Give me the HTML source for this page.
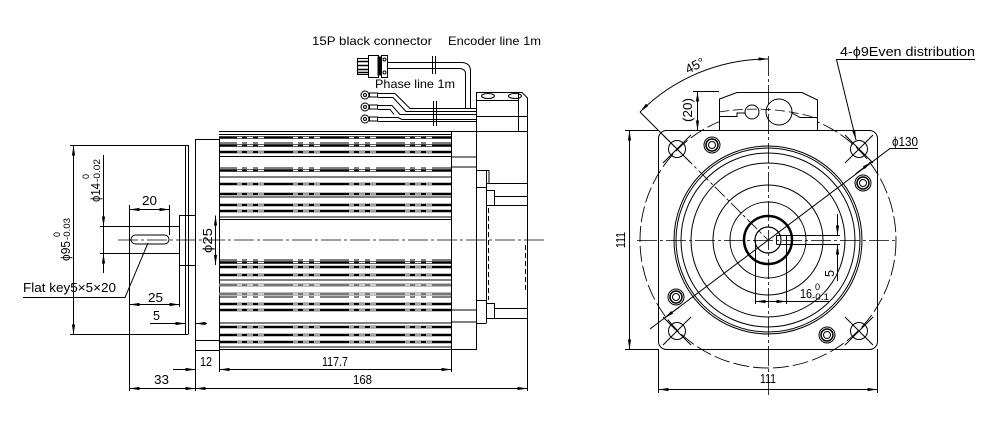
<!DOCTYPE html>
<html><head><meta charset="utf-8"><style>html,body{margin:0;padding:0;background:#fff}svg{display:block}</style></head>
<body>
<svg xmlns="http://www.w3.org/2000/svg" width="1000" height="433" viewBox="0 0 1000 433">
<defs>
<marker id="ah" viewBox="0 0 10 4" refX="10" refY="2" markerWidth="10" markerHeight="4" markerUnits="userSpaceOnUse" orient="auto-start-reverse"><path d="M0,0.4L10,2L0,3.6z" fill="#000"/></marker>
</defs>
<rect width="1000" height="433" fill="#fff"/>

<!-- ================= LEFT VIEW ================= -->
<g fill="none" stroke="#000" stroke-width="1">
<!-- centerline -->
<line x1="118" y1="240" x2="545" y2="240" stroke-width="0.8" stroke-dasharray="20 3 3 3"/>
<!-- shaft -->
<path d="M100,226.5H179 M100,253.5H179 M129.5,205V391"/>
<rect x="131" y="235" width="38" height="9" rx="4.5"/>
<path d="M169.5,205V235"/>
<line x1="129.5" y1="209.5" x2="169.5" y2="209.5" marker-start="url(#ah)" marker-end="url(#ah)"/>
<!-- boss -->
<rect x="179.5" y="215.5" width="16" height="50"/>
<path d="M179.5,265V307"/>
<line x1="215.5" y1="215.5" x2="215.5" y2="265" marker-start="url(#ah)" marker-end="url(#ah)"/>
<!-- thin plate -->
<path d="M185.5,145V334 M188.5,145V334 M70,145.5H188.5 M70,334.5H188.5"/>
<line x1="73.5" y1="145.5" x2="73.5" y2="334.5" marker-start="url(#ah)" marker-end="url(#ah)"/>
<!-- phi14 dim -->
<path d="M103.5,155V273"/>
<line x1="103.5" y1="205" x2="103.5" y2="226.5" marker-end="url(#ah)"/>
<line x1="103.5" y1="273" x2="103.5" y2="253.5" marker-end="url(#ah)"/>
<!-- flange body -->
<path d="M195.5,139V391 M195.5,139.5H219.5 M219.5,139V372 M195.5,340.5H219.5 M195.5,350.5H219.5"/>
<!-- key leader -->
<path d="M148,243L125,297.5H23"/>
<!-- 25 dim -->
<line x1="129.5" y1="304.5" x2="179.5" y2="304.5" marker-start="url(#ah)" marker-end="url(#ah)"/>
<!-- 5 dim -->
<line x1="150" y1="323.5" x2="185.5" y2="323.5" marker-end="url(#ah)"/>
<line x1="207" y1="323.5" x2="195.5" y2="323.5" marker-end="url(#ah)"/>
<!-- 12 / 117.7 -->
<line x1="173" y1="369.5" x2="195.5" y2="369.5" marker-end="url(#ah)"/>
<line x1="219.5" y1="369.5" x2="451.5" y2="369.5" marker-start="url(#ah)" marker-end="url(#ah)"/>
<!-- 33 / 168 -->
<line x1="129.5" y1="388.5" x2="195.5" y2="388.5" marker-start="url(#ah)" marker-end="url(#ah)"/>
<line x1="195.5" y1="388.5" x2="527.5" y2="388.5" marker-start="url(#ah)" marker-end="url(#ah)"/>

<!-- fins -->
<path d="M219,131.5H451 M219,134.5H451 M219,143H451 M219,156.5H451 M219,168H451 M219,177H451 M219,197H451 M219,217H451 M219,219.5H451 M219,260H451 M219,280H451 M219,297H451 M219,323H451 M219,347H451 M219,349.5H451"/>
<path d="M219,137.5H451 M219,145.5H451 M219,152H451 M219,170.5H451 M219,184H451 M219,194H451 M219,205H451 M219,211H451 M219,262.5H451 M219,267H451 M219,275H451 M219,304H451 M219,310H451 M219,327H451 M219,335H451 M219,342H451" stroke-width="2.6"/>
<path d="M219,285H451 M219,294H451" stroke="#777" stroke-width="3"/>
<path d="M237,137.5H451 M237,145.5H451 M237,152H451 M237,170.5H451 M237,184H451 M237,194H451 M237,205H451 M237,211H451 M237,262.5H451 M237,267H451 M237,275H451 M237,304H451 M237,310H451 M237,327H451 M237,335H451 M237,342H451 M237,285H451 M237,294H451 M237,143H451 M237,168H451 M237,260H451 M237,297H451" stroke="#fff" stroke-width="1.3" stroke-dasharray="5 5 6 5 6 29"/>
<path d="M451.5,131V372"/>

<!-- end cap -->
<path d="M451.5,131.5H476.5 M451.5,349.5H476.5 M451.5,157H476.5 M451.5,167H476.5 M451.5,310H476.5 M451.5,322H476.5 M476.5,92V350"/>
<!-- encoder -->
<path d="M476.5,92.5H522L527.5,98V391 M518.5,92.5V131 M476.5,100.5H518.5 M476.5,116.5H527.5 M476.5,131.5H527.5"/>
<ellipse cx="488" cy="96" rx="6.5" ry="2.5"/>
<ellipse cx="515" cy="96" rx="6.5" ry="2.5"/>
<path d="M476.5,170.5H489V183 M486.5,170.5V323 M486.5,183.5H527.5 M486.5,190.5H494.5V205 M494.5,196.5H527.5 M486.5,205.5H527.5 M486.5,303.5H494.5V318 M494.5,308.5H527.5 M486.5,318.5H527.5 M476.5,323.5H486.5 M476.5,187.5H486.5 M476.5,300.5H486.5"/>
<path d="M488.5,208V300 M525.5,245V292" stroke-dasharray="5 3"/>

<!-- connector & cables -->
<rect x="357.5" y="58.5" width="11" height="16"/>
<path d="M357,61.5h11 M357,65.5h11 M357,69.5h11 M357,72.5h11" stroke-width="1.6"/>
<rect x="368.5" y="55.5" width="10" height="22"/>
<rect x="378" y="57" width="3" height="18" fill="#000"/>
<rect x="381.5" y="55.5" width="6" height="22"/>
<circle cx="384.5" cy="59.5" r="1.5"/>
<circle cx="384.5" cy="72.5" r="1.5"/>
<path d="M387,62.5H461Q470.5,62.5 470.5,71V108 M387,68.5H459Q465.5,68.5 465.5,74V108"/>
<path d="M432.5,56V74 M435.5,56V74"/>
<circle cx="365" cy="95" r="4"/><circle cx="365" cy="95" r="1.5"/>
<circle cx="365" cy="107" r="4"/><circle cx="365" cy="107" r="1.5"/>
<circle cx="365" cy="119" r="4"/><circle cx="365" cy="119" r="1.5"/>
<rect x="369.5" y="93" width="8" height="4"/>
<rect x="369.5" y="105" width="8" height="4"/>
<rect x="369.5" y="117" width="8" height="4"/>
<path d="M378,93.5H395L410,108.5H476 M378,97.5H393L406,111.5H476 M378,105.5H392L400,114.5H476 M378,109.5H390L394,114.5 M378,117.5H398L402,119.5H476 M378,121.5H476"/>
<path d="M433.5,101V126 M436.5,101V126"/>
</g>

<!-- ================= RIGHT VIEW ================= -->
<g fill="none" stroke="#000" stroke-width="1">
<rect x="658.5" y="130.5" width="219" height="219" rx="8"/>
<circle cx="768" cy="240" r="128" stroke-width="0.9" stroke-dasharray="16 4"/>
<circle cx="768" cy="240" r="94"/>
<circle cx="768" cy="240" r="92"/>
<circle cx="768" cy="240" r="87"/>
<circle cx="768" cy="240" r="77"/>
<circle cx="768" cy="240" r="55"/>
<circle cx="768" cy="240" r="38"/>
<circle cx="768" cy="240" r="24" stroke-width="2.5"/>
<circle cx="768" cy="240" r="13" stroke-width="1.2"/>
<!-- holes -->
<circle cx="677" cy="149" r="8.5"/>
<circle cx="859" cy="149" r="8.5"/>
<circle cx="677" cy="331" r="8.5"/>
<circle cx="859" cy="331" r="8.5"/>
<path d="M663,135L691,163 M663,163L691,135 M845,135L873,163 M845,163L873,135 M663,317L691,345 M663,345L691,317 M845,317L873,345 M845,345L873,317"/>
<!-- screws -->
<g>
<circle cx="712" cy="145" r="8"/><circle cx="712" cy="145" r="6" stroke-width="1.5"/><circle cx="712" cy="145" r="3.5"/>
<circle cx="863" cy="183" r="8"/><circle cx="863" cy="183" r="6" stroke-width="1.5"/><circle cx="863" cy="183" r="3.5"/>
<circle cx="676" cy="297" r="8"/><circle cx="676" cy="297" r="6" stroke-width="1.5"/><circle cx="676" cy="297" r="3.5"/>
<circle cx="827" cy="335" r="8"/><circle cx="827" cy="335" r="6" stroke-width="1.5"/><circle cx="827" cy="335" r="3.5"/>
</g>
<!-- top box -->
<path d="M719.5,130V99L737,92.5H802L817.5,100V130" fill="#fff"/>
<circle cx="752" cy="112" r="7"/>
<circle cx="779" cy="112" r="13"/>
<path d="M719.5,116.5H737V113H745 M792,113L800,117.5H817.5"/>
<path d="M719,112 Q768,104 817,118" stroke-dasharray="10 4" stroke-width="0.8"/>
<!-- centerlines -->
<path d="M768.5,56V397 M637,240.5H898" stroke-width="0.8" stroke-dasharray="20 3 3 3"/>
<path d="M640,112L666,138"/>
<path d="M666,138L768,240" stroke-width="0.8" stroke-dasharray="14 3 3 3"/>
<!-- 45 arc -->
<path d="M640,112A181,181 0 0 1 768.5,59" marker-start="url(#ah)" marker-end="url(#ah)"/>
<!-- (20) -->
<path d="M693,91.5H719"/>
<line x1="697.5" y1="91.5" x2="697.5" y2="130.5" marker-start="url(#ah)" marker-end="url(#ah)"/>
<!-- 111 left -->
<path d="M625,130.5H658 M625,349.5H658"/>
<line x1="629.5" y1="130.5" x2="629.5" y2="349.5" marker-start="url(#ah)" marker-end="url(#ah)"/>
<!-- 111 bottom -->
<path d="M658.5,349V393 M877.5,349V393"/>
<line x1="658.5" y1="389.5" x2="877.5" y2="389.5" marker-start="url(#ah)" marker-end="url(#ah)"/>
<!-- keyway -->
<path d="M776.5,235.5V244.5 M776.5,235.5H840 M776.5,244.5H840 M786.5,235.5V244.5"/>
<line x1="837.5" y1="214" x2="837.5" y2="235.5" marker-end="url(#ah)"/>
<line x1="837.5" y1="281" x2="837.5" y2="244.5" marker-end="url(#ah)"/>
<!-- 16 dim -->
<path d="M755.5,240V304 M786.5,244V304"/>
<line x1="755.5" y1="301.5" x2="786.5" y2="301.5" marker-start="url(#ah)" marker-end="url(#ah)"/>
<path d="M786.5,301.5H830"/>
<!-- phi130 leader -->
<path d="M650,329L890,148.5H918"/>
<line x1="855.8" y1="173.7" x2="871.8" y2="161.7" marker-end="url(#ah)"/>
<line x1="680.2" y1="306.3" x2="664.2" y2="318.3" marker-end="url(#ah)"/>
<!-- 4-phi9 leader -->
<path d="M975,59.5H836.5L856,140" marker-end="url(#ah)"/>
</g>

<!-- ================= TEXT ================= -->
<g font-family="'Liberation Sans','DejaVu Sans',sans-serif" font-size="13" fill="#000" lengthAdjust="spacingAndGlyphs">
<text x="312" y="45" font-size="12" textLength="120" lengthAdjust="spacingAndGlyphs">15P black connector</text>
<text x="448" y="45" font-size="12" textLength="93" lengthAdjust="spacingAndGlyphs">Encoder line 1m</text>
<text x="375" y="88" font-size="12" textLength="80" lengthAdjust="spacingAndGlyphs">Phase line 1m</text>
<text x="142" y="205" textLength="15" lengthAdjust="spacingAndGlyphs">20</text>
<text x="23" y="292" font-size="12.5" textLength="93" lengthAdjust="spacingAndGlyphs">Flat key5×5×20</text>
<text x="148" y="302" textLength="15" lengthAdjust="spacingAndGlyphs">25</text>
<text x="153" y="320" textLength="7" lengthAdjust="spacingAndGlyphs">5</text>
<text x="200" y="366" textLength="12" lengthAdjust="spacingAndGlyphs">12</text>
<text x="322" y="366" textLength="26" lengthAdjust="spacingAndGlyphs">117.7</text>
<text x="154" y="384" textLength="15" lengthAdjust="spacingAndGlyphs">33</text>
<text x="353" y="384" textLength="19" lengthAdjust="spacingAndGlyphs">168</text>

<g transform="translate(70,261) rotate(-90)">
<text x="0" y="0" textLength="20" lengthAdjust="spacingAndGlyphs">ϕ95</text>
<text x="21" y="0" font-size="9" textLength="22" lengthAdjust="spacingAndGlyphs">-0.03</text>
<text x="24" y="-10" font-size="9">0</text>
</g>
<g transform="translate(100,202) rotate(-90)">
<text x="0" y="0" textLength="19" lengthAdjust="spacingAndGlyphs">ϕ14</text>
<text x="20" y="0" font-size="9" textLength="23" lengthAdjust="spacingAndGlyphs">-0.02</text>
<text x="23" y="-11" font-size="9">0</text>
</g>
<g transform="translate(212,253) rotate(-90)">
<text x="0" y="0" textLength="25" lengthAdjust="spacingAndGlyphs">ϕ25</text>
</g>

<g transform="translate(688,74) rotate(-27)">
<text x="0" y="0" textLength="20" lengthAdjust="spacingAndGlyphs">45°</text>
</g>
<g transform="translate(692,122) rotate(-90)">
<text x="0" y="0" textLength="24" lengthAdjust="spacingAndGlyphs">(20)</text>
</g>
<g transform="translate(625,248) rotate(-90)">
<text x="0" y="0" textLength="16" lengthAdjust="spacingAndGlyphs">111</text>
</g>
<text x="760" y="383" textLength="16" lengthAdjust="spacingAndGlyphs">111</text>
<g transform="translate(834,277) rotate(-90)">
<text x="0" y="0" textLength="7" lengthAdjust="spacingAndGlyphs">5</text>
</g>
<text x="800" y="298" textLength="12" lengthAdjust="spacingAndGlyphs">16</text>
<text x="815" y="290" font-size="9">0</text>
<text x="812" y="300" font-size="9" textLength="17" lengthAdjust="spacingAndGlyphs">-0.1</text>
<text x="840" y="56" font-size="12.5" textLength="135" lengthAdjust="spacingAndGlyphs">4-ϕ9Even distribution</text>
<text x="892" y="146" textLength="26" lengthAdjust="spacingAndGlyphs">ϕ130</text>
</g>
</svg>
</body></html>
